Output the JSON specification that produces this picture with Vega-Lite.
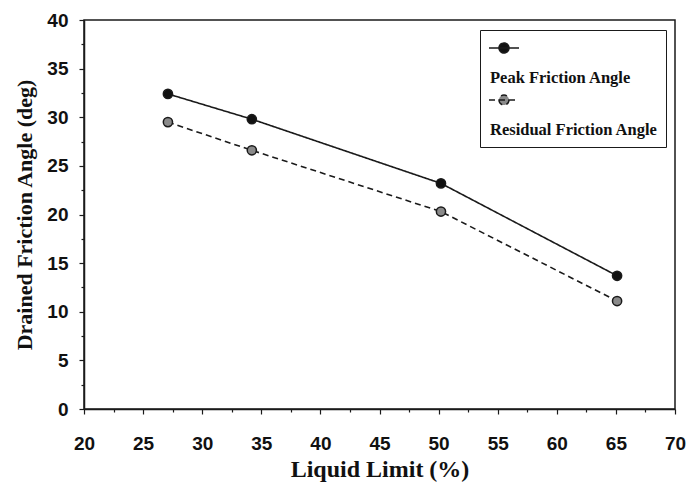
{
  "$schema": "https://vega.github.io/schema/vega-lite/v6.json",
  "width": 591,
  "height": 389,
  "autosize": "none",
  "padding": {"left": 84, "top": 20, "right": 12, "bottom": 75},
  "background": "white",
  "config": {
    "view": {"stroke": "#1a1a1a", "strokeWidth": 1.5},
    "axis": {
      "grid": false,
      "domainColor": "#1a1a1a",
      "domainWidth": 1.5,
      "tickColor": "#1a1a1a",
      "tickWidth": 1.2,
      "labelFont": "Liberation Sans",
      "labelFontWeight": "bold",
      "labelFontSize": 19,
      "labelColor": "#111",
      "labelFlush": false,
      "labelOverlap": false,
      "titleFont": "Liberation Serif",
      "titleFontWeight": "bold",
      "titleColor": "#111"
    },
    "legend": {
      "title": " ",
      "titleFontSize": 10,
      "titlePadding": 4,
      "orient": "none",
      "legendX": 396,
      "legendY": 10,
      "strokeColor": "#1a1a1a",
      "fillColor": "white",
      "padding": 8,
      "symbolType": "M-1,-1.2H0.2M-0.6,-1.2a0.2,0.2 0 1,0 0.4,0a0.2,0.2 0 1,0 -0.4,0",
      "symbolSize": 2500,
      "symbolStrokeColor": "#1a1a1a",
      "symbolStrokeWidth": 1.5,
      "symbolOpacity": 1,
      "labelOffset": -50,
      "labelFont": "Liberation Serif",
      "labelFontWeight": "bold",
      "labelFontSize": 16.5,
      "labelColor": "#111",
      "labelLimit": 400,
      "rowPadding": 5
    }
  },
  "data": {
    "values": [
      {"ll": 27.1, "angle": 32.4, "series": "Peak Friction Angle"},
      {"ll": 34.2, "angle": 29.8, "series": "Peak Friction Angle"},
      {"ll": 50.2, "angle": 23.2, "series": "Peak Friction Angle"},
      {"ll": 65.1, "angle": 13.7, "series": "Peak Friction Angle"},
      {"ll": 27.1, "angle": 29.5, "series": "Residual Friction Angle"},
      {"ll": 34.2, "angle": 26.6, "series": "Residual Friction Angle"},
      {"ll": 50.2, "angle": 20.3, "series": "Residual Friction Angle"},
      {"ll": 65.1, "angle": 11.1, "series": "Residual Friction Angle"}
    ]
  },
  "encoding": {
    "x": {
      "field": "ll",
      "type": "quantitative",
      "scale": {"domain": [20, 70], "nice": false, "zero": false},
      "axis": {
        "title": "Liquid Limit (%)",
        "titleFontSize": 24,
        "values": [20, 22.5, 25, 27.5, 30, 32.5, 35, 37.5, 40, 42.5, 45, 47.5, 50, 52.5, 55, 57.5, 60, 62.5, 65, 67.5, 70],
        "labelExpr": "datum.value % 5 === 0 ? datum.label : ''",
        "tickSize": {"condition": {"test": "datum.value % 5 === 0", "value": 5}, "value": 3},
        "labelPadding": 20,
        "titlePadding": 4,
        "encode": {"ticks": {"update": {"y": {"signal": "datum.value % 5 === 0 ? -5 : -3"}}}}
      }
    },
    "y": {
      "field": "angle",
      "type": "quantitative",
      "scale": {"domain": [0, 40], "nice": false},
      "axis": {
        "title": "Drained Friction Angle (deg)",
        "titleFontSize": 22,
        "values": [0, 2.5, 5, 7.5, 10, 12.5, 15, 17.5, 20, 22.5, 25, 27.5, 30, 32.5, 35, 37.5, 40],
        "labelExpr": "datum.value % 5 === 0 ? datum.label : ''",
        "tickSize": {"condition": {"test": "datum.value % 5 === 0", "value": 5}, "value": 3},
        "labelPadding": 11,
        "titlePadding": 10,
        "encode": {"ticks": {"update": {"x": {"signal": "datum.value % 5 === 0 ? 5 : 3"}}}}
      }
    }
  },
  "layer": [
    {
      "mark": {"type": "line", "color": "#1a1a1a", "strokeWidth": 1.6},
      "encoding": {
        "strokeDash": {
          "field": "series",
          "type": "nominal",
          "scale": {"domain": ["Peak Friction Angle", "Residual Friction Angle"], "range": [[1, 0], [6, 4]]},
          "legend": {"title": " "}
        }
      }
    },
    {
      "mark": {"type": "point", "filled": true, "opacity": 1, "size": 85, "stroke": "#1a1a1a", "strokeWidth": 1.5},
      "encoding": {
        "fill": {
          "field": "series",
          "type": "nominal",
          "scale": {"domain": ["Peak Friction Angle", "Residual Friction Angle"], "range": ["#111111", "#8a8a8a"]},
          "legend": {"title": " "}
        }
      }
    }
  ]
}
